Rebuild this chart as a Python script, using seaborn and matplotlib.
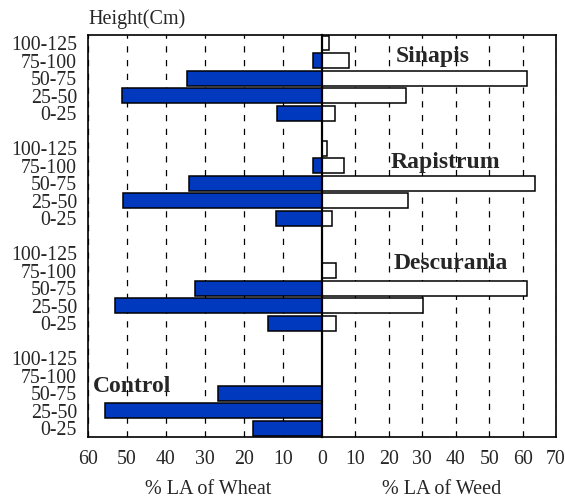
import pandas as pd
import matplotlib.pyplot as plt
import seaborn as sns

# Dữ liệu
heights = ['100-125', '75-100', '50-75', '25-50', '0-25']
groups = ['Sinapis', 'Rapistrum', 'Descurania', 'Control']

wheat_sinapis = [0, 2.2, 34.5, 51.3, 11.6]
wheat_rapistrum = [0, 2.4, 34.2, 51.0, 11.9]
wheat_descurania = [0, 0, 32.5, 53.2, 13.9]
wheat_control = [0, 0, 26.6, 55.6, 17.6]

weed_sinapis = [2.0, 8.2, 61.2, 25.2, 4.0]
weed_rapistrum = [1.5, 6.6, 63.6, 25.8, 3.0]
weed_descurania = [0, 4.1, 61.2, 30.2, 4.1]
weed_control = [0, 0, 0, 0, 0]

wheat = [wheat_sinapis, wheat_rapistrum, wheat_descurania, wheat_control]
weed = [weed_sinapis, weed_rapistrum, weed_descurania, weed_control]

rows = []
for g, name in enumerate(groups):
    for h, lab in enumerate(heights):
        rows.append({'group': name, 'height': lab, 'pos': g * 6 + h,
                     'wheat': wheat[g][h], 'weed': weed[g][h]})
df = pd.DataFrame(rows)

sns.set_style('white')
plt.rcParams['font.family'] = ['Liberation Serif', 'DejaVu Serif']

fig = plt.figure(figsize=(5.65, 5.0), dpi=100)
W, H = 565, 500
ax_l = fig.add_axes([88 / W, (H - 437) / H, (322 - 88) / W, (437 - 35) / H])
ax_r = fig.add_axes([322 / W, (H - 437) / H, (556 - 322) / W, (437 - 35) / H])

blue = '#0039BD'
dl = df[df['wheat'] > 0]
dr = df[df['weed'] > 0]
sns.barplot(data=dl, x='wheat', y='pos', orient='h', native_scale=True,
            color=blue, edgecolor='black', linewidth=1.1, width=0.85,
            saturation=1, ax=ax_l)
sns.barplot(data=dr, x='weed', y='pos', orient='h', native_scale=True,
            color='white', edgecolor='black', linewidth=1.1, width=0.85,
            saturation=1, ax=ax_r)

for ax in (ax_l, ax_r):
    ax.set_ylim(22.5, -0.46)
    ax.set_axisbelow(True)
    ax.grid(axis='x', color='black', linestyle=(0, (5, 6)), linewidth=0.9)
    ax.grid(axis='y', visible=False)
    for s in ax.spines.values():
        s.set_color('black')
        s.set_linewidth(1.2)
    ax.set_xlabel('')
    ax.set_ylabel('')
    ax.tick_params(axis='x', direction='in', length=0, labelsize=14.3, pad=9)

ax_l.set_xlim(60, 0)
ax_l.set_xticks([60, 50, 40, 30, 20, 10, 0])
ax_l.spines['right'].set_visible(False)
ax_l.set_yticks(df['pos'])
ax_l.set_yticklabels(df['height'])
ax_l.tick_params(axis='y', length=0, labelsize=14.3, pad=8)

ax_r.set_xlim(0, 70)
ax_r.set_xticks([10, 20, 30, 40, 50, 60, 70])
ax_r.set_yticks([])
ax_r.spines['left'].set_linewidth(1.6)

# Nhãn nhóm
ax_r.text(22, 0.75, 'Sinapis', fontsize=17, fontweight='bold', va='center')
ax_r.text(20.6, 6.8, 'Rapistrum', fontsize=17, fontweight='bold', va='center')
ax_r.text(21.4, 12.6, 'Descurania', fontsize=17, fontweight='bold', va='center')
ax_l.text(58.7, 19.6, 'Control', fontsize=17, fontweight='bold', va='center')

fig.text(88 / W, 1 - 19 / H, 'Height(Cm)', fontsize=14.5, ha='left', va='center')
fig.text(208 / W, 1 - 490 / H, '% LA of Wheat', fontsize=14.5, ha='center', va='center')
fig.text(442 / W, 1 - 490 / H, '% LA of Weed', fontsize=14.5, ha='center', va='center')

fig.savefig('out.png', dpi=100)
